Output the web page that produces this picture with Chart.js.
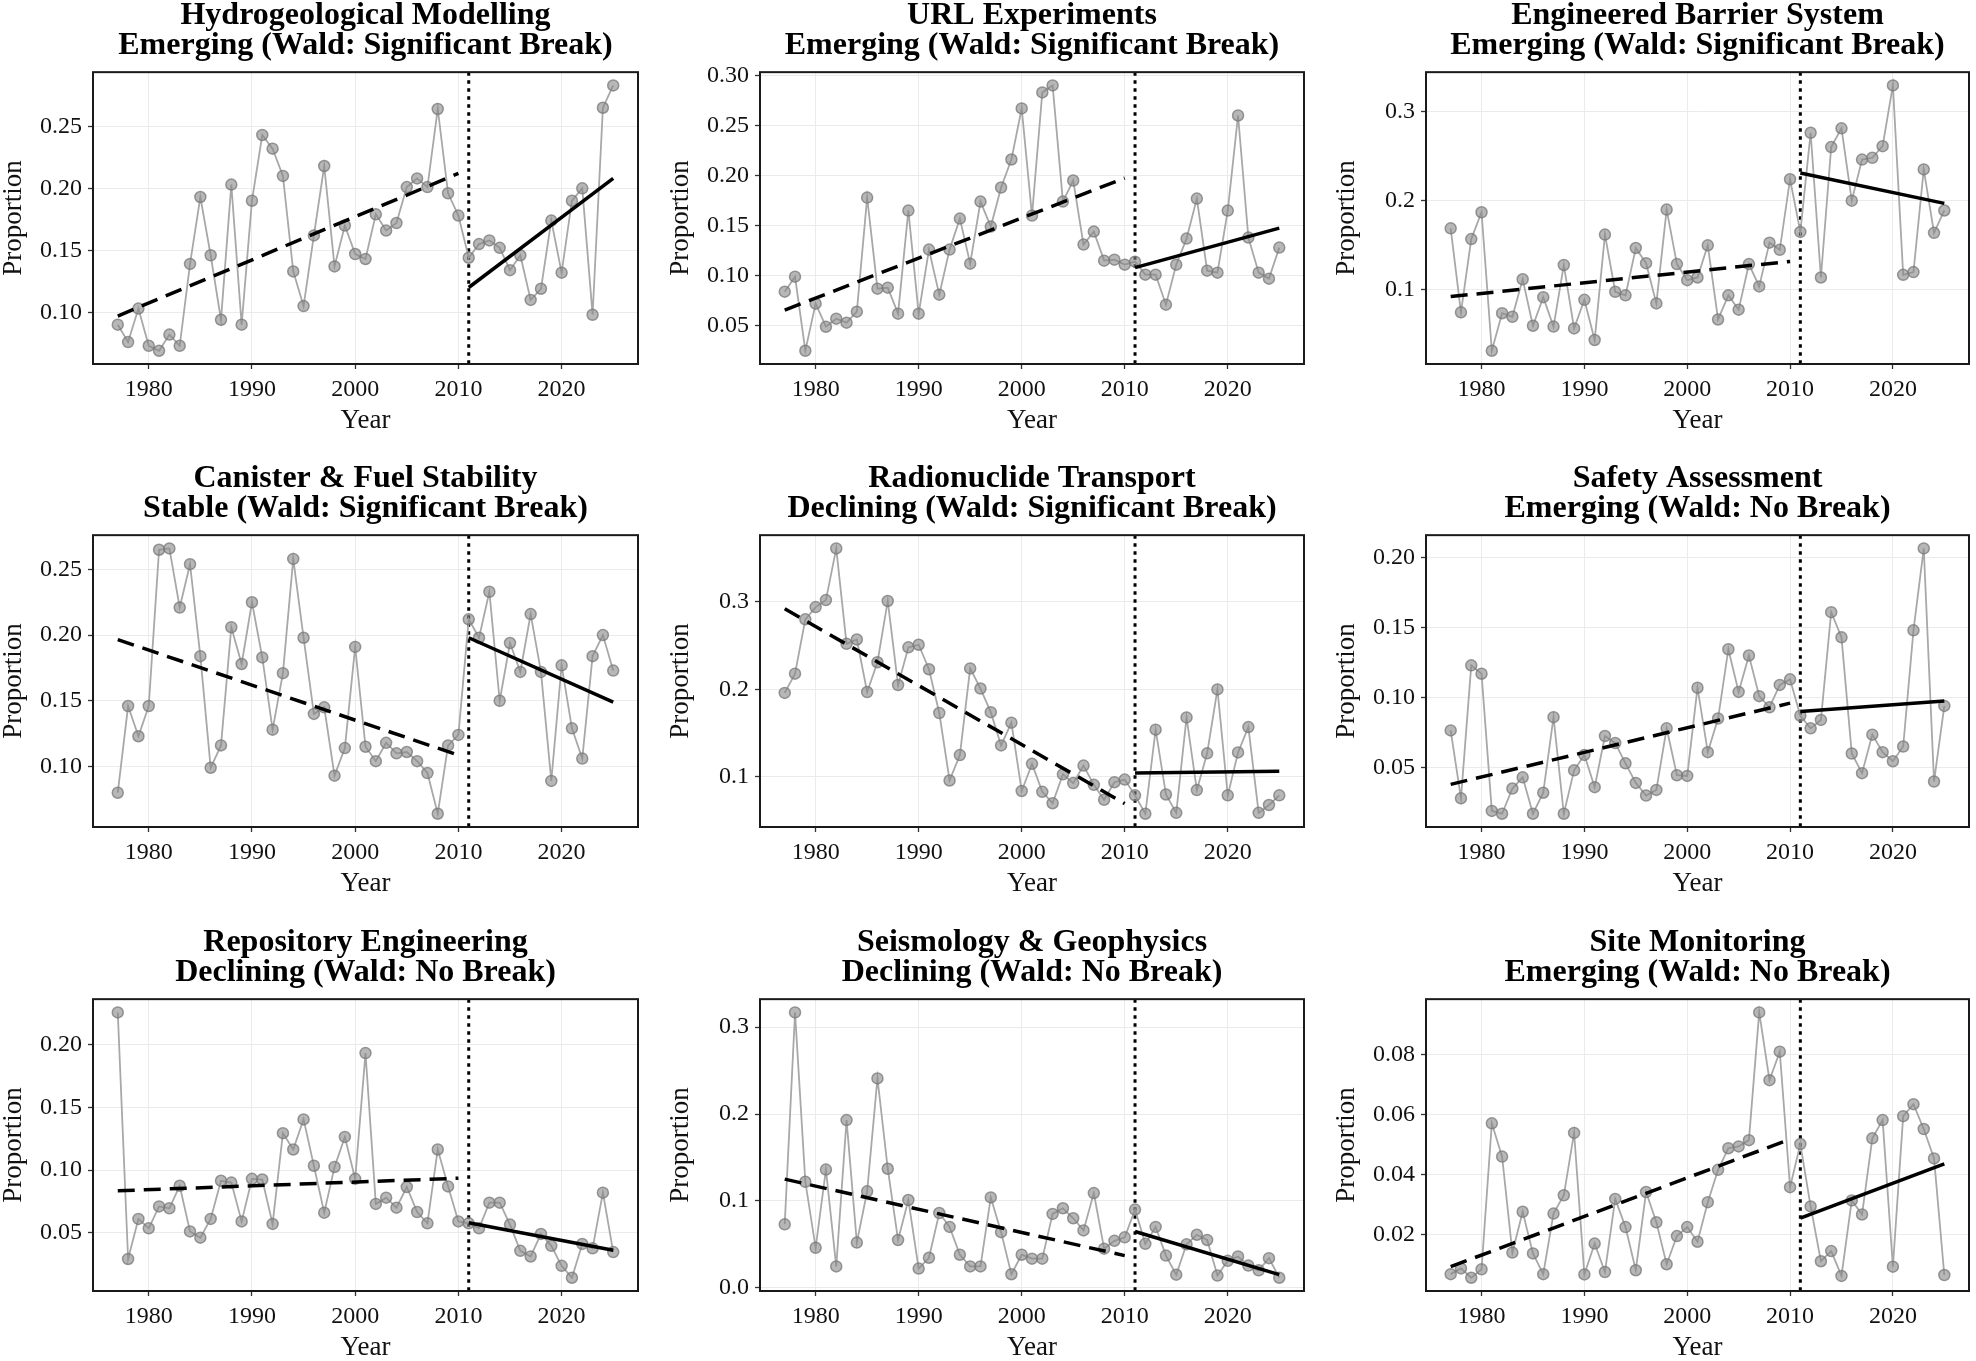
<!DOCTYPE html>
<html lang="en">
<head>
<meta charset="UTF-8" />
<title>Topic proportions with Wald break test</title>
<script src="https://cdn.jsdelivr.net/npm/chart.js"></script>
<style>
  html, body { margin: 0; padding: 0; background: #fff; overflow: hidden; }
  body { width: 1976px; height: 1361px; position: relative; }
  canvas { position: absolute; }
</style>
</head>
<body>
<script>
const years = [1977, 1978, 1979, 1980, 1981, 1982, 1983, 1984, 1985, 1986,
  1987, 1988, 1989, 1990, 1991, 1992, 1993, 1994, 1995, 1996,
  1997, 1998, 1999, 2000, 2001, 2002, 2003, 2004, 2005, 2006,
  2007, 2008, 2009, 2010, 2011, 2012, 2013, 2014, 2015, 2016,
  2017, 2018, 2019, 2020, 2021, 2022, 2023, 2024, 2025];

const topics = ["Hydrogeological Modelling", "URL Experiments", "Engineered Barrier System",
  "Canister & Fuel Stability", "Radionuclide Transport", "Safety Assessment",
  "Repository Engineering", "Seismology & Geophysics", "Site Monitoring"];
const verdicts = ["Emerging (Wald: Significant Break)", "Emerging (Wald: Significant Break)",
  "Emerging (Wald: Significant Break)", "Stable (Wald: Significant Break)",
  "Declining (Wald: Significant Break)", "Emerging (Wald: No Break)",
  "Declining (Wald: No Break)", "Declining (Wald: No Break)", "Emerging (Wald: No Break)"];

const hydro = [0.090, 0.076, 0.103, 0.073, 0.069, 0.082, 0.073, 0.139, 0.193, 0.146,
  0.094, 0.203, 0.090, 0.190, 0.243, 0.232, 0.210, 0.133, 0.105, 0.162,
  0.218, 0.137, 0.170, 0.147, 0.143, 0.179, 0.166, 0.172, 0.201, 0.208,
  0.201, 0.264, 0.196, 0.178, 0.144, 0.155, 0.158, 0.152, 0.134, 0.146,
  0.110, 0.119, 0.174, 0.132, 0.190, 0.200, 0.098, 0.265, 0.283];
const url = [0.084, 0.099, 0.025, 0.072, 0.049, 0.057, 0.053, 0.064, 0.178, 0.087,
  0.088, 0.062, 0.165, 0.062, 0.126, 0.081, 0.126, 0.157, 0.112, 0.174,
  0.149, 0.188, 0.216, 0.267, 0.160, 0.283, 0.290, 0.174, 0.195, 0.131,
  0.144, 0.115, 0.116, 0.111, 0.114, 0.101, 0.101, 0.071, 0.111, 0.137,
  0.177, 0.105, 0.103, 0.165, 0.260, 0.138, 0.103, 0.097, 0.128];
const barrier = [0.169, 0.075, 0.157, 0.187, 0.032, 0.074, 0.070, 0.112, 0.060, 0.092,
  0.059, 0.128, 0.057, 0.089, 0.044, 0.162, 0.098, 0.094, 0.147, 0.130,
  0.085, 0.190, 0.129, 0.111, 0.114, 0.150, 0.067, 0.094, 0.078, 0.129,
  0.104, 0.153, 0.145, 0.224, 0.165, 0.276, 0.114, 0.260, 0.281, 0.200,
  0.246, 0.248, 0.261, 0.329, 0.117, 0.120, 0.235, 0.164, 0.189];
const canister = [0.080, 0.146, 0.123, 0.146, 0.265, 0.266, 0.221, 0.254, 0.184, 0.099,
  0.116, 0.206, 0.178, 0.225, 0.183, 0.128, 0.171, 0.258, 0.198, 0.140,
  0.145, 0.093, 0.114, 0.191, 0.115, 0.104, 0.118, 0.110, 0.111, 0.104,
  0.095, 0.064, 0.116, 0.124, 0.212, 0.198, 0.233, 0.150, 0.194, 0.172,
  0.216, 0.172, 0.089, 0.177, 0.129, 0.106, 0.184, 0.200, 0.173];
const radionuclide = [0.196, 0.218, 0.280, 0.294, 0.302, 0.361, 0.252, 0.257, 0.197, 0.231,
  0.301, 0.205, 0.248, 0.251, 0.223, 0.173, 0.096, 0.125, 0.224, 0.201,
  0.174, 0.136, 0.162, 0.084, 0.115, 0.083, 0.070, 0.103, 0.093, 0.113,
  0.091, 0.074, 0.094, 0.097, 0.079, 0.058, 0.154, 0.080, 0.059, 0.168,
  0.085, 0.127, 0.200, 0.079, 0.128, 0.157, 0.059, 0.068, 0.079];
const safety = [0.0765, 0.028, 0.123, 0.117, 0.019, 0.017, 0.035, 0.043, 0.017, 0.032,
  0.086, 0.017, 0.048, 0.059, 0.036, 0.0725, 0.0675, 0.053, 0.039, 0.030,
  0.034, 0.078, 0.0445, 0.044, 0.107, 0.061, 0.085, 0.1345, 0.104, 0.130,
  0.101, 0.093, 0.109, 0.113, 0.087, 0.078, 0.084, 0.161, 0.143, 0.060,
  0.046, 0.0735, 0.061, 0.0545, 0.065, 0.148, 0.2065, 0.040, 0.094];
const repository = [0.226, 0.029, 0.061, 0.0535, 0.071, 0.0695, 0.0875, 0.051, 0.046, 0.061,
  0.0915, 0.090, 0.059, 0.093, 0.0925, 0.057, 0.1295, 0.1165, 0.1405, 0.1035,
  0.066, 0.1025, 0.1265, 0.093, 0.1935, 0.073, 0.078, 0.070, 0.0865, 0.0665,
  0.0575, 0.1165, 0.087, 0.059, 0.0575, 0.0535, 0.074, 0.074, 0.0565, 0.0355,
  0.031, 0.049, 0.0395, 0.0235, 0.014, 0.041, 0.0375, 0.082, 0.0345];
const seismology = [0.073, 0.317, 0.122, 0.046, 0.136, 0.0245, 0.193, 0.052, 0.111, 0.241,
  0.137, 0.055, 0.101, 0.022, 0.0345, 0.086, 0.070, 0.038, 0.0245, 0.0245,
  0.104, 0.064, 0.0155, 0.038, 0.0335, 0.0335, 0.085, 0.0915, 0.080, 0.066,
  0.109, 0.045, 0.054, 0.058, 0.090, 0.0505, 0.070, 0.037, 0.015, 0.050,
  0.061, 0.055, 0.014, 0.031, 0.036, 0.0255, 0.020, 0.034, 0.0115];
const monitoring = [0.0067, 0.0086, 0.0055, 0.0083, 0.057, 0.0459, 0.0139, 0.0275, 0.0136, 0.0067,
  0.0269, 0.033, 0.0538, 0.0066, 0.0169, 0.0074, 0.0318, 0.0224, 0.008, 0.0341,
  0.024, 0.010, 0.0194, 0.0224, 0.0175, 0.0307, 0.0415, 0.0487, 0.0493, 0.0514,
  0.094, 0.0714, 0.0809, 0.0357, 0.0501, 0.0293, 0.011, 0.0144, 0.0061, 0.0313,
  0.0266, 0.052, 0.0581, 0.0092, 0.0594, 0.0634, 0.0551, 0.0453, 0.0064];

// fitted segment ends: [value at first year, value at last year]
const preYears = [1977, 2010];
const postYears = [2011, 2025];
const preFit = [[0.097, 0.212], [0.0656, 0.1975], [0.0926, 0.132], [0.1966, 0.1086],
  [0.292, 0.0696], [0.038, 0.096], [0.0835, 0.0935], [0.125, 0.037], [0.0092, 0.0517]];
const postFit = [[0.120, 0.208], [0.108, 0.1475], [0.231, 0.197], [0.198, 0.149],
  [0.1046, 0.1065], [0.090, 0.0976], [0.058, 0.036], [0.0647, 0.015], [0.0254, 0.0435]];
const breakYear = 2011;

const yStep = [0.05, 0.05, 0.1, 0.05, 0.1, 0.05, 0.05, 0.1, 0.02];
const yDigits = [2, 2, 1, 2, 1, 2, 2, 1, 2];

const series = [hydro, url, barrier, canister, radionuclide, safety, repository, seismology, monitoring];

// layout (px)
const colLeft = [93, 760, 1426];
const colRight = [640, 1306, 1971];
const rowTop = [72, 535, 999];
const plotHeight = 292;
const axisWidth = 93, axisHeight = 75, titleHeight = 72, rightPad = 5;

const serif = "'Liberation Serif', 'Times New Roman', serif";
const ink = '#111';

const framePlugin = {
  id: 'frame',
  beforeDatasetsDraw(chart) {
    const { ctx, chartArea: a, scales: { x } } = chart;
    const px = x.getPixelForValue(breakYear);
    ctx.save();
    ctx.strokeStyle = '#000';
    ctx.lineWidth = 3;
    ctx.setLineDash([3.5, 4.5]);
    ctx.beginPath();
    ctx.moveTo(px, a.top);
    ctx.lineTo(px, a.bottom);
    ctx.stroke();
    ctx.restore();
  },
  afterDraw(chart) {
    const { ctx, chartArea: a } = chart;
    ctx.save();
    ctx.strokeStyle = '#1a1a1a';
    ctx.lineWidth = 2;
    ctx.strokeRect(a.left, a.top, a.right - a.left, a.bottom - a.top);
    ctx.restore();
  }
};

function drawPanel(i) {
  const col = i % 3, row = Math.floor(i / 3);
  const plotWidth = colRight[col] - colLeft[col];
  const canvas = document.createElement('canvas');
  canvas.width = axisWidth + plotWidth + rightPad;
  canvas.height = titleHeight + plotHeight + axisHeight;
  canvas.style.left = (colLeft[col] - axisWidth) + 'px';
  canvas.style.top = (rowTop[row] - titleHeight) + 'px';
  document.body.appendChild(canvas);

  const vals = series[i];
  const lo = Math.min(...vals), hi = Math.max(...vals);
  const padY = (hi - lo) * 0.05;
  const padX = (years[years.length - 1] - years[0]) * 0.05;

  const gridStyle = { color: '#ebebeb', lineWidth: 1, tickColor: '#333', tickLength: 5, tickWidth: 1.3 };

  new Chart(canvas, {
    type: 'scatter',
    data: {
      datasets: [
        {
          data: years.map((yr, k) => ({ x: yr, y: vals[k] })),
          showLine: true,
          borderColor: '#a8a8a8',
          borderWidth: 1.8,
          pointRadius: 5.5,
          pointBackgroundColor: 'rgba(135,135,135,0.6)',
          pointBorderColor: 'rgba(120,120,120,0.75)',
          pointBorderWidth: 1.5,
          order: 2
        },
        {
          data: preYears.map((yr, k) => ({ x: yr, y: preFit[i][k] })),
          showLine: true,
          borderColor: '#000',
          borderWidth: 3.5,
          borderDash: [17, 9],
          pointRadius: 0,
          order: 1
        },
        {
          data: postYears.map((yr, k) => ({ x: yr, y: postFit[i][k] })),
          showLine: true,
          borderColor: '#000',
          borderWidth: 3.5,
          pointRadius: 0,
          order: 1
        }
      ]
    },
    options: {
      responsive: false,
      animation: false,
      layout: { padding: { left: 0, right: rightPad, top: 0, bottom: 0 } },
      plugins: {
        legend: { display: false },
        tooltip: { enabled: false },
        title: {
          display: true,
          text: [topics[i], verdicts[i]],
          fullSize: false,
          color: '#000',
          font: { family: serif, size: 32, weight: 'bold', lineHeight: 0.94 },
          padding: { top: 1, bottom: 11 }
        }
      },
      scales: {
        x: {
          type: 'linear',
          min: years[0] - padX,
          max: years[years.length - 1] + padX,
          afterFit: s => { s.height = axisHeight; },
          border: { display: false },
          grid: gridStyle,
          ticks: {
            stepSize: 10, includeBounds: false, maxRotation: 0,
            padding: 6, color: ink, font: { family: serif, size: 24 },
            callback: v => String(v)
          },
          title: {
            display: true, text: 'Year', color: ink,
            font: { family: serif, size: 27, lineHeight: 1.2 },
            padding: { top: 0, bottom: 2 }
          }
        },
        y: {
          min: lo - padY,
          max: hi + padY,
          afterFit: s => { s.width = axisWidth; },
          border: { display: false },
          grid: gridStyle,
          ticks: {
            stepSize: yStep[i], includeBounds: false,
            padding: 6, color: ink, font: { family: serif, size: 24 },
            callback: v => (Math.abs(v) < 1e-9 ? 0 : v).toFixed(yDigits[i])
          },
          title: {
            display: true, text: 'Proportion', color: ink,
            font: { family: serif, size: 27, lineHeight: 1.0 },
            padding: { top: 0, bottom: 0 }
          }
        }
      }
    },
    plugins: [framePlugin]
  });
}

for (let i = 0; i < series.length; i++) drawPanel(i);
</script>
</body>
</html>
